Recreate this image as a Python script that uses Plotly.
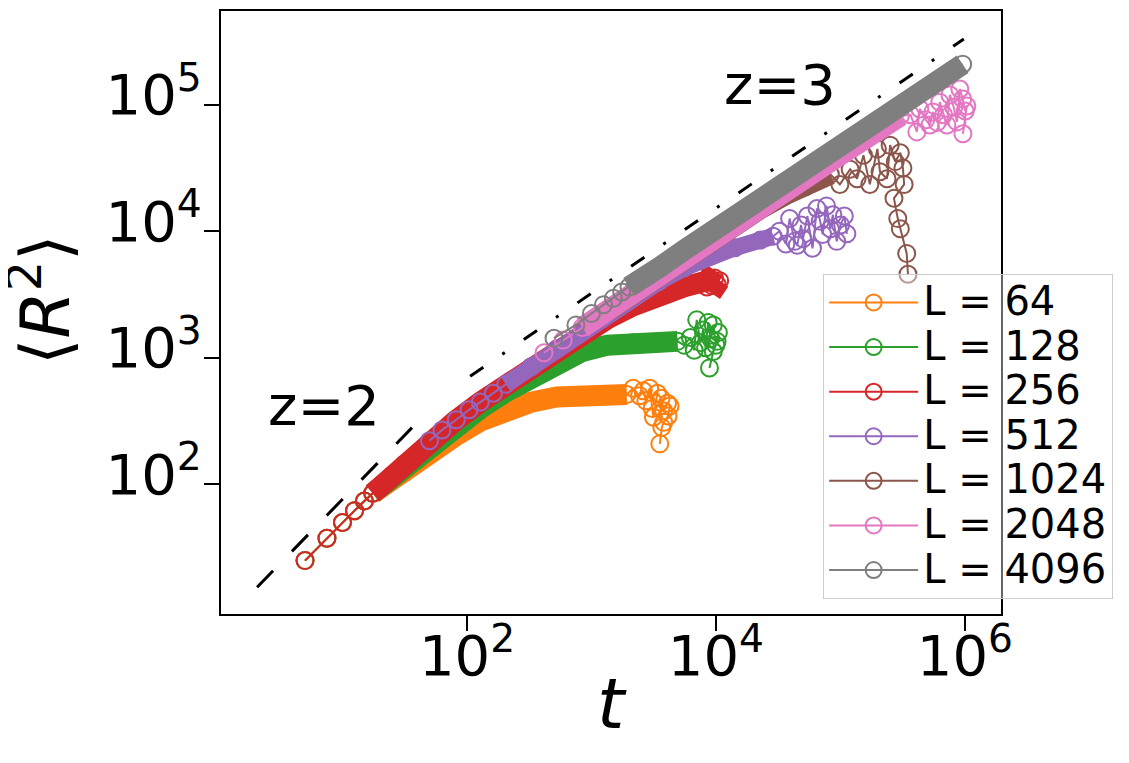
import plotly.graph_objects as go

# Dati: <R^2> in funzione di t per diversi L (assi log-log)
L_values = [64, 128, 256, 512, 1024, 2048, 4096]
colori = ["#ff7f0e", "#2ca02c", "#d62728", "#9467bd", "#8c564b", "#e377c2", "#7f7f7f"]

t_64 = [5, 7.5, 10, 12.5, 15, 17.5, 24.7, 31.4, 50, 80, 128, 205, 329, 527, 843, 1350, 1922,
        2160, 2433, 2610, 2734, 2937, 3078, 3149, 3381, 3629, 3807, 4083, 4280, 4128, 3807, 3674, 3540]
r2_64 = [25, 37.6, 50, 62, 74, 85, 110, 126, 178, 240, 316, 389, 447, 490, 501, 501, 513,
         575, 501, 550, 457, 575, 398, 339, 525, 479, 380, 437, 417, 347, 309, 282, 209]

t_128 = [5, 7.5, 10, 12.5, 15, 17.5, 24.7, 31.4, 50, 80, 128, 205, 329, 527, 843, 1350, 2160, 3460, 4923,
         5540, 6233, 6693, 7009, 7521, 7885, 8265, 8664, 9083, 9526, 9981, 10460, 10220, 9526, 8873]
r2_128 = [25, 37.6, 50, 62, 74, 85, 112, 138, 204, 288, 398, 537, 708, 912, 1122, 1259, 1318, 1318, 1349,
          1259, 1445, 1148, 1995, 1318, 1660, 1202, 1905, 1413, 1820, 1259, 1585, 1349, 1122, 832]

t_256 = [5, 7.5, 10, 12.5, 15, 17.5, 24.7, 31.4, 50, 80, 128, 205, 329, 527, 843, 1350, 2160, 3460, 5540, 7885,
         8462, 8873, 9300, 9743, 10220, 10710]
r2_256 = [25, 37.6, 50, 62, 74, 85, 117, 145, 219, 316, 447, 617, 851, 1175, 1585, 2040, 2570, 3160, 3630, 3980,
          3630, 4170, 3720, 4270, 3800, 4070]

t_512 = [50, 63, 82, 104, 128, 163, 205, 329, 527, 843, 1350, 2160, 3460, 5540, 8873, 14210, 22750, 28790,
         32380, 36410, 39080, 42940, 45010, 48300, 50030, 54330, 59690, 64810, 68770, 72060, 77330, 82990,
         86990, 93380, 100200, 107500, 112700]
r2_512 = [221, 269, 324, 389, 447, 525, 617, 851, 1175, 1622, 2240, 3020, 3980, 5130, 6310, 7410, 8510, 9120,
          10000, 7940, 12590, 8320, 7760, 11220, 8710, 13180, 7330, 15140, 12020, 9440, 15850, 10470,
          13490, 8320, 11220, 13180, 9550]

t_1024 = [1350, 2160, 3460, 5540, 8873, 14210, 22750, 36410, 51840, 65580, 82990,
          99010, 119700, 136000, 153100, 172300, 198200, 207900, 236600, 250900, 275700, 302900, 317600,
          325000, 269200, 288900, 302900, 340700, 348800]
r2_1024 = [2340, 3240, 4400, 5980, 8130, 11120, 15140, 19500, 22390, 25120, 28180,
           23440, 30900, 26000, 39810, 23440, 44670, 29510, 26000, 47860, 35480, 41690, 31620,
           23440, 18200, 12590, 10470, 6680, 4570]

t_2048 = [416, 593, 843, 1350, 2160, 3460, 5540, 8873, 14210, 22750, 36410, 58310, 93380, 149500, 239300, 302900,
          365600, 411200, 435100, 484900, 524100, 553200, 599300, 628100, 674300, 716600, 758300, 813600,
          863000, 910800, 959400, 1005600, 1037000, 963900]
r2_2048 = [1096, 1380, 1738, 2340, 3240, 4400, 5980, 8130, 11120, 15140, 20650, 28180, 38370, 52240, 70790, 81280,
           83180, 60950, 92470, 75860, 69180, 87700, 72440, 104700, 83180, 69180, 119400, 95500,
           73110, 133000, 110900, 89130, 97720, 58880]

t_4096 = [500, 750, 1000, 1250, 1500, 1750, 2000, 2250, 3460, 5540, 8873, 14210, 22750, 36410, 58310,
          93380, 149500, 239300, 383100, 613600, 776200, 959400]
r2_4096 = [1429, 1820, 2240, 2630, 2950, 3310, 3630, 3980, 5130, 7080, 9550, 13180, 17780, 24270, 33110,
           44670, 61660, 83180, 114800, 154900, 182000, 208900]

# rette di riferimento z=2 (pendenza 1) e z=3 (pendenza 2/3)
t_z2 = [2.06, 36.2]
r2_z2 = [15.4, 281]
t_z3 = [106, 980000]
r2_z3 = [716, 330000]

x_tick_vals = [1e2, 1e4, 1e6]
x_tick_text = ["10<sup>2</sup>", "10<sup>4</sup>", "10<sup>6</sup>"]
y_tick_vals = [1e2, 1e3, 1e4, 1e5]
y_tick_text = ["10<sup>2</sup>", "10<sup>3</sup>", "10<sup>4</sup>", "10<sup>5</sup>"]

serie_t = [t_64, t_128, t_256, t_512, t_1024, t_2048, t_4096]
serie_r2 = [r2_64, r2_128, r2_256, r2_512, r2_1024, r2_2048, r2_4096]

# tratti dove i punti sono cosi fitti da sembrare una banda piena (indici, spessore)
banda = {64: (5, 17, 21), 128: (5, 19, 21), 256: (5, 26, 21), 512: (6, 18, 17),
         1024: (0, 11, 21), 2048: (2, 16, 21), 4096: (6, 22, 21)}

fig = go.Figure()

for L, c, t, r2 in zip(L_values, colori, serie_t, serie_r2):
    i0, i1, w = banda[L]
    # banda spessa
    fig.add_trace(go.Scatter(x=t[i0:i1], y=r2[i0:i1], mode='lines',
                             line=dict(color=c, width=w), showlegend=False, hoverinfo='skip'))
    # punti e linea sottile
    fig.add_trace(go.Scatter(x=t, y=r2, mode='lines+markers',
                             name=f"<span style='font-size:40px'>L = {L}</span>",
                             line=dict(color=c, width=2),
                             marker=dict(symbol='circle-open', size=17, color=c, line=dict(width=2))))

fig.add_trace(go.Scatter(x=t_z2, y=r2_z2, mode='lines', showlegend=False,
                         line=dict(color='black', width=3, dash='23px,27px')))
fig.add_trace(go.Scatter(x=t_z3, y=r2_z3, mode='lines', showlegend=False,
                         line=dict(color='black', width=3, dash='16px,23px,3px,23px')))

fig.add_annotation(x=0.854, y=2.62, text='z=2', showarrow=False, font=dict(size=56, color='black'))
fig.add_annotation(x=4.514, y=5.16, text='z=3', showarrow=False, font=dict(size=56, color='black'))

# titoli degli assi
fig.add_annotation(xref='paper', yref='paper', x=-0.2308, y=0.5223, xanchor='center', yanchor='middle',
                   text='⟨<i>R</i><sup>2</sup>⟩', textangle=-90, showarrow=False,
                   font=dict(size=68, color='black'))
fig.add_annotation(xref='paper', yref='paper', x=0.501, y=-0.1487, xanchor='center', yanchor='middle',
                   text='<i>t</i>', showarrow=False, font=dict(size=70, color='black'))

asse = dict(type='log', showgrid=False, zeroline=False, showline=True, linecolor='black', linewidth=2,
            mirror=True, ticks='outside', ticklen=15, tickwidth=2, tickcolor='black',
            tickfont=dict(size=56, color='black'))

# la pagina ha 8 px di margine: la figura e' piu' piccola della finestra di 8 px
fig.update_layout(
    width=1121, height=755,
    paper_bgcolor='white', plot_bgcolor='white',
    font=dict(family='DejaVu Sans', color='black'),
    margin=dict(l=213, r=128, t=1, b=149),
    xaxis=dict(asse, range=[0.024, 6.29], tickvals=x_tick_vals, ticktext=x_tick_text,
               ticklabelstandoff=-23),
    yaxis=dict(asse, range=[0.976, 5.74], tickvals=y_tick_vals, ticktext=y_tick_text,
               ticklabelshift=-10, ticklabelstandoff=-9),
    legend=dict(x=0.772, y=0.5636, xanchor='left', yanchor='top', font=dict(size=32),
                bgcolor='rgba(255,255,255,0.4)', bordercolor='#cccccc', borderwidth=1,
                itemwidth=89),
)

fig.write_html("out.html")
